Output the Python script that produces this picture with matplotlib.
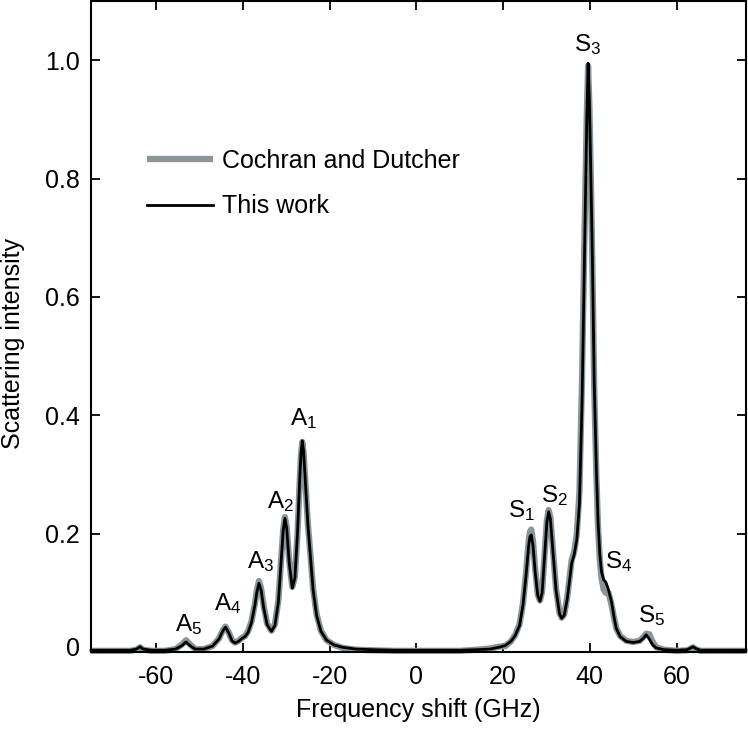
import matplotlib
matplotlib.use("Agg")
import matplotlib.pyplot as plt
import matplotlib.transforms as mtransforms

plt.rcParams['font.family'] = ['Liberation Sans', 'DejaVu Sans']
plt.rcParams['mathtext.fontset'] = 'custom'
plt.rcParams['mathtext.rm'] = 'Liberation Sans'
plt.rcParams['axes.unicode_minus'] = False

# frequency shift (GHz)
freq = [-75, -70, -66, -64.5, -63.7, -63, -61, -58, -55.5, -54, -53.1, -52.2, -51, -49,
        -47, -45.5, -44.6, -44.0, -43.3, -42.5, -41.8, -41, -40.2, -39.5, -38.8, -38,
        -37.2, -36.8, -36.3, -35.8, -35.2, -34.4, -33.4, -32.6, -31.8, -31.2, -30.7,
        -30.3, -29.9, -29.3, -28.6, -28.0, -27.4, -26.9, -26.6, -26.3, -26.0, -25.6,
        -25.0, -24.5, -23.8, -23.0, -22.0, -20.7, -19, -17, -14, -10, -5, 0, 5, 10, 14,
        17, 19, 20.5, 21.8, 22.8, 23.8, 24.6, 25.3, 25.9, 26.2, 26.5, 26.9, 27.4, 28.0,
        28.5, 29.0, 29.6, 30.1, 30.5, 30.9, 31.5, 32.2, 33.0, 33.5, 34.1, 34.8, 35.4,
        35.8, 36.4, 37.0, 37.6, 38.2, 38.7, 39.0, 39.3, 39.6, 39.9, 40.2, 40.6, 41.0,
        41.5, 41.9, 42.3, 42.7, 43.2, 43.7, 44.3, 45.0, 45.6, 46.1, 47.0, 48.4, 50.0,
        51.5, 52.3, 53.0, 53.7, 54.5, 55.3, 57, 60, 62.5, 63.3, 63.8, 64.4, 65.5, 68,
        72, 76]

# "This work"
this_work = [0.003, 0.003, 0.003, 0.005, 0.009, 0.005, 0.003, 0.003, 0.005, 0.011, 0.017,
             0.011, 0.005, 0.005, 0.010, 0.022, 0.036, 0.042, 0.033, 0.019, 0.015, 0.018,
             0.023, 0.026, 0.033, 0.050, 0.080, 0.100, 0.116, 0.105, 0.075, 0.046, 0.035,
             0.045, 0.085, 0.150, 0.205, 0.226, 0.210, 0.150, 0.108, 0.125, 0.200, 0.290,
             0.335, 0.357, 0.340, 0.290, 0.215, 0.170, 0.105, 0.062, 0.035, 0.020, 0.012,
             0.008, 0.005, 0.004, 0.003, 0.003, 0.003, 0.003, 0.004, 0.005, 0.008, 0.011,
             0.018, 0.028, 0.045, 0.080, 0.130, 0.180, 0.195, 0.198, 0.180, 0.135, 0.095,
             0.086, 0.100, 0.165, 0.220, 0.237, 0.225, 0.170, 0.105, 0.065, 0.057, 0.062,
             0.090, 0.125, 0.150, 0.165, 0.190, 0.250, 0.420, 0.640, 0.780, 0.900, 0.995,
             0.930, 0.820, 0.660, 0.460, 0.310, 0.220, 0.165, 0.135, 0.122, 0.118, 0.105,
             0.085, 0.058, 0.040, 0.026, 0.018, 0.016, 0.018, 0.023, 0.029, 0.022, 0.012,
             0.007, 0.004, 0.003, 0.004, 0.007, 0.009, 0.006, 0.003, 0.003, 0.003, 0.003]

# "Cochran and Dutcher"
cochran = [0.002, 0.002, 0.002, 0.004, 0.008, 0.004, 0.002, 0.002, 0.005, 0.013, 0.020,
           0.013, 0.005, 0.005, 0.010, 0.023, 0.037, 0.043, 0.034, 0.020, 0.016, 0.019,
           0.024, 0.027, 0.035, 0.052, 0.082, 0.103, 0.120, 0.108, 0.078, 0.048, 0.036,
           0.047, 0.088, 0.152, 0.207, 0.228, 0.212, 0.153, 0.110, 0.127, 0.200, 0.288,
           0.333, 0.355, 0.338, 0.290, 0.216, 0.172, 0.107, 0.064, 0.036, 0.020, 0.012,
           0.007, 0.004, 0.003, 0.002, 0.002, 0.002, 0.002, 0.004, 0.006, 0.009, 0.010,
           0.018, 0.029, 0.047, 0.083, 0.135, 0.188, 0.203, 0.207, 0.188, 0.140, 0.097,
           0.087, 0.102, 0.168, 0.223, 0.240, 0.228, 0.172, 0.107, 0.066, 0.058, 0.064,
           0.093, 0.130, 0.155, 0.170, 0.200, 0.270, 0.460, 0.680, 0.800, 0.910, 0.990,
           0.925, 0.815, 0.650, 0.450, 0.300, 0.210, 0.155, 0.125, 0.105, 0.100, 0.100,
           0.080, 0.057, 0.040, 0.027, 0.019, 0.017, 0.019, 0.025, 0.031, 0.030, 0.017,
           0.008, 0.004, 0.002, 0.003, 0.006, 0.008, 0.005, 0.002, 0.002, 0.002, 0.002]

peak_labels = ['A_5', 'A_4', 'A_3', 'A_2', 'A_1', 'S_1', 'S_2', 'S_3', 'S_4', 'S_5']
label_x = [-52.6, -43.4, -35.8, -31.3, -25.9, 24.3, 31.9, 39.5, 46.6, 54.3]
label_y = [0.036, 0.071, 0.141, 0.244, 0.384, 0.228, 0.254, 1.015, 0.141, 0.051]

fig = plt.figure(figsize=(7.48, 7.30), dpi=100)
ax = fig.add_axes([0.1217, 0.1068, 0.8756, 0.8918])

ax.plot(freq, cochran, color='#8a9599', lw=4.5, solid_capstyle='butt',
        label='Cochran and Dutcher', clip_on=False, zorder=2)
ax.plot(freq, this_work, color='black', lw=2.0, label='This work',
        clip_on=False, zorder=3)

for lab, lx, ly in zip(peak_labels, label_x, label_y):
    ax.text(lx, ly, r'$\mathregular{' + lab + '}$', fontsize=17.5,
            ha='center', va='baseline')

ax.set_xlim(-75, 76)
ax.set_ylim(0, 1.1)
ax.set_xticks([-60, -40, -20, 0, 20, 40, 60])
ax.set_yticks([0, 0.2, 0.4, 0.6, 0.8, 1.0])
ax.set_yticklabels(['0', '0.2', '0.4', '0.6', '0.8', '1.0'])
ax.tick_params(direction='in', length=6.5, width=1.3, labelsize=18,
               top=True, right=True)
ax.tick_params(axis='x', pad=9)
ax.tick_params(axis='y', pad=8)
for sp in ax.spines.values():
    sp.set_linewidth(1.5)

# the "0" label sits a little above its tick
zero_lab = ax.get_yticklabels()[0]
zero_lab.set_transform(zero_lab.get_transform() +
                       mtransforms.ScaledTranslation(0, 6 / 100, fig.dpi_scale_trans))

ax.set_xlabel('Frequency shift (GHz)', fontsize=18, labelpad=7)
ax.set_ylabel('Scattering intensity', fontsize=18)
ax.yaxis.set_label_coords(-0.1008, 0.474)

leg = ax.legend(loc='upper left', bbox_to_anchor=(0.086, 0.7734), frameon=False,
                fontsize=18, handlelength=2.64, handletextpad=0.34, labelspacing=0.87,
                borderpad=0, borderaxespad=0)

fig.savefig('out.png', dpi=100)
